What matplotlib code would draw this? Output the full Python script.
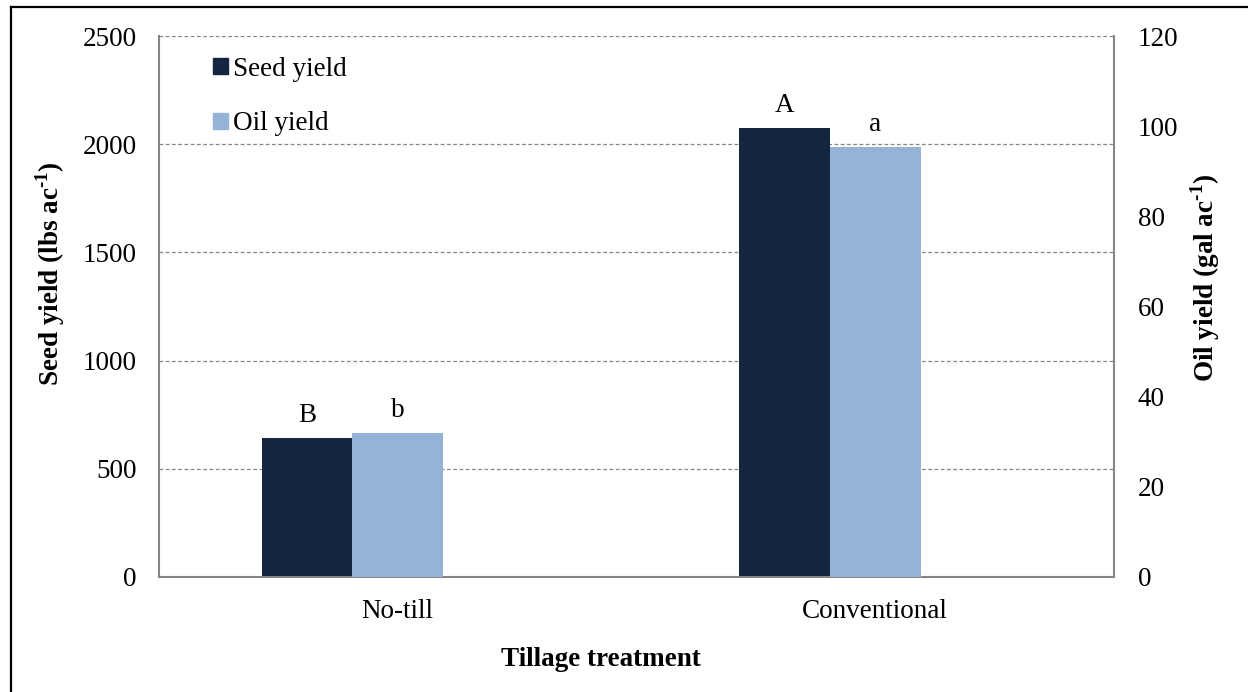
import matplotlib
matplotlib.use('Agg')
import matplotlib.pyplot as plt
from matplotlib.lines import Line2D
from matplotlib.patches import Patch
import numpy as np

# data
treatments = ['No-till', 'Conventional']
seed_yield = [642, 2075]      # lbs ac-1
oil_yield = [31.9, 95.4]      # gal ac-1
seed_letters = ['B', 'A']
oil_letters = ['b', 'a']

plt.rcParams['font.family'] = ['Liberation Serif', 'DejaVu Serif']
plt.rcParams['mathtext.fontset'] = 'custom'
plt.rcParams['mathtext.rm'] = 'Liberation Serif'
plt.rcParams['mathtext.bf'] = 'Liberation Serif:bold'

seed_col = '#14253f'
oil_col = '#95b3d7'
gray = '#868686'
fs = 19.5

fig = plt.figure(figsize=(12.48, 6.92), dpi=100)
ax = fig.add_axes([159/1248, 1 - 577/692, (1114 - 159)/1248, (577 - 36)/692])
ax2 = ax.twinx()

x = np.arange(len(treatments))
w = 0.19

# seed bars sit left of the oil bars, oil bars centred on the category
ax.bar(x - w, seed_yield, width=w, color=seed_col, zorder=2)
ax2.bar(x, oil_yield, width=w, color=oil_col, zorder=2)

for xi, v, t in zip(x, seed_yield, seed_letters):
    ax.annotate(t, xy=(xi - w, v), xytext=(0, 16), textcoords='offset points',
                ha='center', va='center', fontsize=fs)
for xi, v, t in zip(x, oil_yield, oil_letters):
    ax2.annotate(t, xy=(xi, v), xytext=(0, 16), textcoords='offset points',
                 ha='center', va='center', fontsize=fs)

ax.set_xlim(-0.5, 1.5)
ax.set_ylim(0, 2500)
ax.set_yticks(np.arange(0, 2501, 500))
ax2.set_ylim(0, 120)
ax2.set_yticks(np.arange(0, 121, 20))
ax.set_xticks(x)
ax.set_xticklabels(treatments)

ax.yaxis.grid(True, linestyle=(0, (3, 2)), color=gray, linewidth=0.9)
ax.set_axisbelow(True)

ax.tick_params(axis='both', length=0, labelsize=fs)
ax.tick_params(axis='y', pad=16)
ax.tick_params(axis='x', pad=16)
ax2.tick_params(axis='y', length=0, labelsize=fs, pad=17)

for s in ['top', 'right']:
    ax.spines[s].set_visible(False)
for s in ['left', 'bottom']:
    ax.spines[s].set_color(gray)
    ax.spines[s].set_linewidth(1.5)
for s in ['top', 'left', 'bottom']:
    ax2.spines[s].set_visible(False)
ax2.spines['right'].set_color(gray)
ax2.spines['right'].set_linewidth(1.5)

ax.set_ylabel('Seed yield (lbs ac$^{\\mathbf{\u20101}}$)', fontsize=fs, fontweight='bold')
ax.yaxis.set_label_coords(-0.096, 0.56)
ax2.set_ylabel('Oil yield (gal ac$^{\\mathbf{\u20101}}$)', fontsize=fs, fontweight='bold')
ax2.yaxis.set_label_coords(1.078, 0.553)
ax.set_xlabel('Tillage treatment', fontsize=fs, fontweight='bold')
ax.xaxis.set_label_coords(0.463, -0.13)

handles = [Patch(color=seed_col), Patch(color=oil_col)]
ax.legend(handles, ['Seed yield', 'Oil yield'], loc='upper left',
          bbox_to_anchor=(0.0565, 0.962), frameon=False, fontsize=fs,
          handlelength=0.55, handleheight=0.55, handletextpad=0.2,
          labelspacing=1.1, borderpad=0, borderaxespad=0)

# outer border of the picture
fig.add_artist(Line2D([11/1248, 11/1248], [0, 1 - 7/692], transform=fig.transFigure,
                      color='black', lw=1.6))
fig.add_artist(Line2D([11/1248, 1], [1 - 7/692, 1 - 7/692], transform=fig.transFigure,
                      color='black', lw=1.6))

fig.savefig('out.png', dpi=100, facecolor='white')
